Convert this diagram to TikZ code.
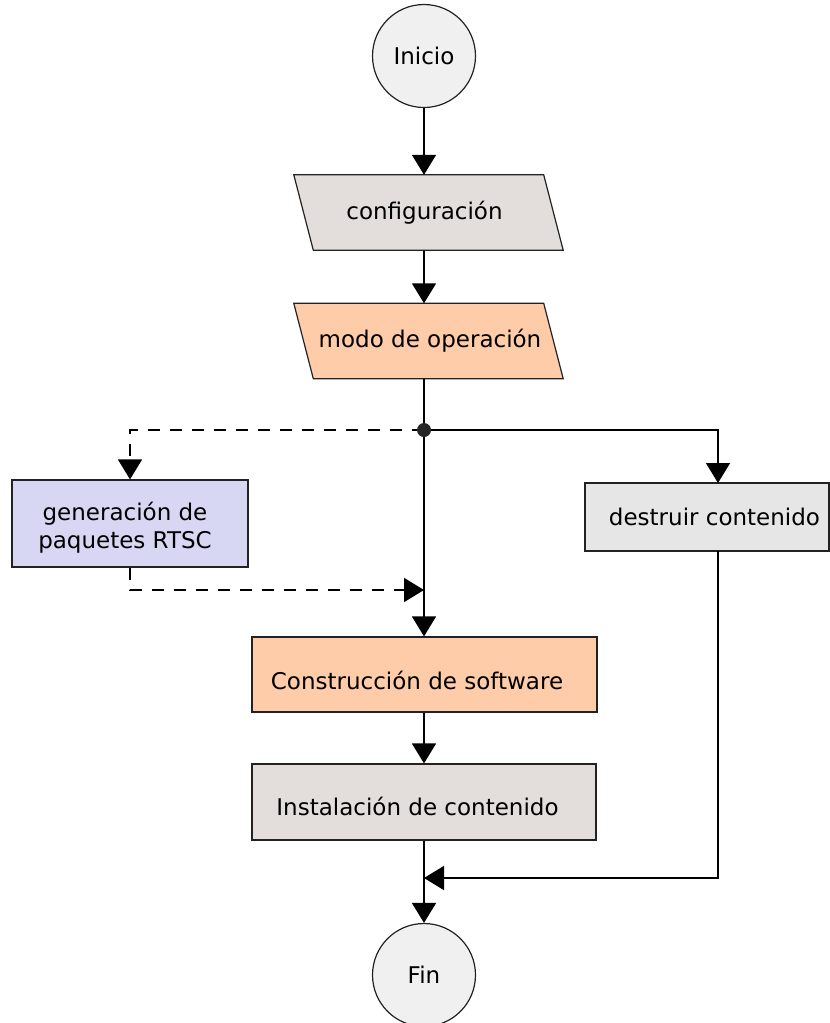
\documentclass[tikz,border=0pt]{standalone}
\usepackage{fontspec}
\setmainfont{DejaVu Sans}
\usetikzlibrary{arrows.meta,backgrounds}
\definecolor{greyfill}{HTML}{E3DEDB}
\definecolor{peach}{HTML}{FFCCAA}
\definecolor{lavender}{HTML}{D7D7F4}
\definecolor{lightgrey}{HTML}{E6E6E6}
\definecolor{termfill}{HTML}{F0F0F0}
\definecolor{edge}{HTML}{222222}
\tikzset{
  txt/.style={font=\fontsize{23}{28}\selectfont, inner sep=0pt, align=center},
  base/.style={txt, draw=edge, line width=1.2pt},
  term/.style={base, circle, fill=termfill, minimum size=103pt},
  % parallelogram body: drawn on the background layer from the node's corners
  io/.style={txt, rectangle, minimum width=249.5pt, minimum height=75pt},
  ioshape/.style={draw=edge, line width=1.2pt},
  box/.style={base, rectangle},
  caption/.style={txt, anchor=base},
  flow/.style={line width=1.5pt, -{Triangle[length=20pt,width=24pt]}},
  plain/.style={line width=1.5pt},
  dashline/.style={line width=1.5pt, dash pattern=on 12pt off 10pt},
}
\newcommand{\slanted}[2]{%
  \filldraw[ioshape, fill=#2]
    ([xshift=-9.75pt]#1.north west) -- ([xshift=-9.75pt]#1.north east) --
    ([xshift=9.75pt]#1.south east) -- ([xshift=9.75pt]#1.south west) -- cycle;}
\begin{document}
\begin{tikzpicture}[x=1pt,y=-1pt]
\useasboundingbox (0,0) rectangle (830,1023);

% start and end
\node[term] (ini) at (424,56) {Inicio};
\node[term] (fin) at (424,975) {Fin};

% input / output steps
\node[io] (cfg) at (428.5,212.5) {\hspace*{-8pt}configuración};
\node[io] (modo) at (428.5,341) {\hspace*{3pt}modo de operación};
\begin{pgfonlayer}{background}
  \slanted{cfg}{greyfill}
  \slanted{modo}{peach}
\end{pgfonlayer}

% process steps (multi-line captions sit on the baseline of their last line)
\node[box, fill=lavender, minimum width=236pt, minimum height=87pt] (gen) at (130,523.5) {};
\node[caption] (genT) at (125,548) {generación de\\paquetes RTSC};
\node[box, fill=lightgrey, minimum width=244pt, minimum height=68pt] (des) at (707,517) {\hspace*{15pt}destruir contenido};
\node[box, fill=peach, minimum width=345pt, minimum height=75pt] (cons) at (424.5,674.5) {};
\node[caption] (consT) at (417,689) {Construcción de software};
\node[box, fill=greyfill, minimum width=344pt, minimum height=76pt] (ins) at (424,802) {};
\node[caption] (insT) at (417.5,815) {Instalación de contenido};

% branching point and merge points
\coordinate (j) at (424,430);
\coordinate (m1) at (424,590);
\coordinate (m2) at (424,878);
\coordinate (dtop) at (718,483);
\coordinate (dbot) at (718,551);

% main flow
\draw[flow] (ini.south) -- (ini.south |- cfg.north);
\draw[flow] (ini.south |- cfg.south) -- (ini.south |- modo.north);
\draw[plain] (j |- modo.south) -- (j);
\draw[flow] (j) -- (j |- cons.north);
\draw[flow] (cons.south -| j) -- (ins.north -| j);
\draw[flow] (ins.south -| j) -- (fin.north);

% optional branch through package generation
\draw[dashline, -{Triangle[length=20pt,width=24pt]}] (j) -| (gen.north);
\draw[dashline, -{Triangle[length=20pt,width=24pt]}] (gen.south) |- (m1);

% branch that destroys the content
\draw[flow] (j) -| (dtop);
\draw[flow] (dbot) |- (m2);

% junction dot
\fill[black!85] (j) circle (7pt);
\end{tikzpicture}
\end{document}
